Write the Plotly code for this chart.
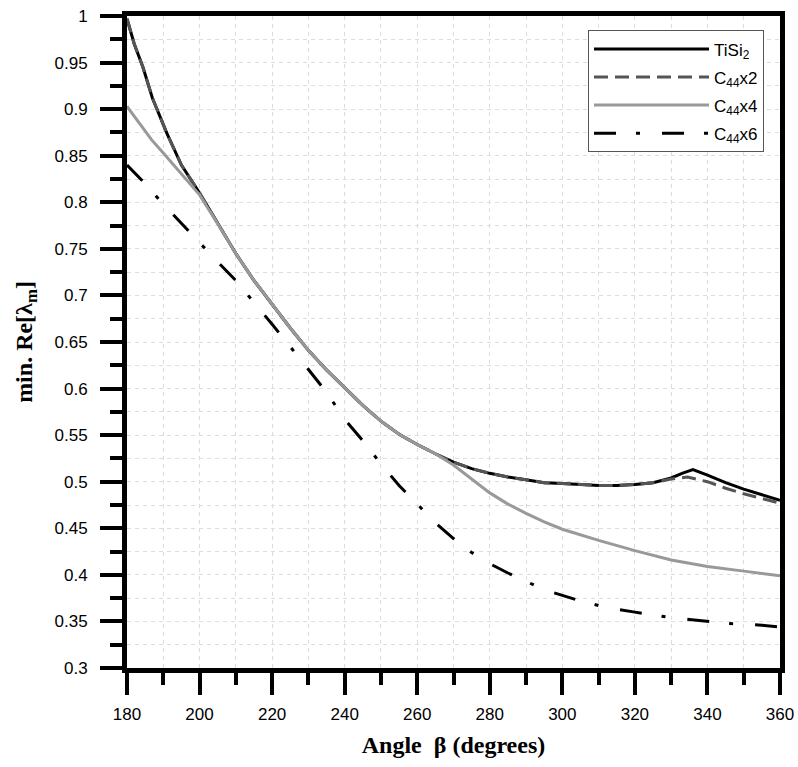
import plotly.graph_objects as go

# --- data -------------------------------------------------------------
tisi2_x = [180, 182, 184.4, 187, 191, 195, 200, 202, 205, 210, 215, 220, 225, 230,
           235, 240, 245, 250, 255, 260, 265, 270, 275, 280, 285, 290, 295, 300,
           305, 310, 315, 320, 325, 330, 333, 336, 340, 345, 350, 355, 360]
tisi2_y = [0.997, 0.970, 0.945, 0.912, 0.874, 0.840, 0.810, 0.797, 0.777, 0.745,
           0.716, 0.690, 0.665, 0.641, 0.620, 0.601, 0.582, 0.565, 0.551, 0.540,
           0.530, 0.521, 0.514, 0.509, 0.505, 0.502, 0.499, 0.498, 0.497, 0.496,
           0.496, 0.497, 0.499, 0.504, 0.509, 0.513, 0.507, 0.499, 0.492, 0.486,
           0.480]

c44x2_x = [180, 182, 184.4, 187, 191, 195, 200, 202, 205, 210, 215, 220, 225, 230,
           235, 240, 245, 250, 255, 260, 265, 270, 275, 280, 285, 290, 295, 300,
           305, 310, 315, 320, 325, 330, 334.5, 340, 345, 350, 355, 360]
c44x2_y = [0.997, 0.970, 0.945, 0.912, 0.874, 0.840, 0.810, 0.797, 0.777, 0.745,
           0.716, 0.690, 0.665, 0.641, 0.620, 0.601, 0.582, 0.565, 0.551, 0.540,
           0.530, 0.521, 0.514, 0.509, 0.505, 0.502, 0.499, 0.498, 0.497, 0.496,
           0.496, 0.497, 0.499, 0.503, 0.505, 0.500, 0.493, 0.487, 0.482, 0.477]

c44x4_x = [180, 186.8, 190, 195, 200, 205, 210, 215, 220, 225, 230, 235, 240, 245,
           250, 255, 260, 265, 270, 275, 280, 285, 290, 295, 300, 310, 320, 330,
           340, 350, 360]
c44x4_y = [0.903, 0.867, 0.853, 0.830, 0.808, 0.777, 0.745, 0.716, 0.690, 0.665,
           0.641, 0.620, 0.601, 0.582, 0.565, 0.551, 0.540, 0.530, 0.518, 0.503,
           0.488, 0.476, 0.466, 0.457, 0.449, 0.437, 0.426, 0.416, 0.409, 0.404,
           0.399]

c44x6_x = [180, 185, 190, 195, 200, 205, 210, 215, 220, 225, 230, 235, 240, 245,
           250, 255, 260, 265, 270, 275, 280, 285, 290, 295, 300, 305, 310, 315,
           320, 325, 330, 335, 340, 345, 350, 355, 360]
c44x6_y = [0.840, 0.820, 0.798, 0.777, 0.757, 0.736, 0.716, 0.693, 0.669, 0.645,
           0.621, 0.596, 0.567, 0.544, 0.519, 0.496, 0.476, 0.456, 0.439, 0.424,
           0.412, 0.402, 0.393, 0.384, 0.378, 0.372, 0.367, 0.363, 0.360, 0.357,
           0.354, 0.352, 0.350, 0.348, 0.347, 0.346, 0.344]

x_ticks = [180, 200, 220, 240, 260, 280, 300, 320, 340, 360]
y_ticks = [0.3, 0.35, 0.4, 0.45, 0.5, 0.55, 0.6, 0.65, 0.7, 0.75, 0.8, 0.85,
           0.9, 0.95, 1.0]
y_tick_text = ["0.3", "0.35", "0.4", "0.45", "0.5", "0.55", "0.6", "0.65", "0.7",
               "0.75", "0.8", "0.85", "0.9", "0.95", "1"]

# --- figure -----------------------------------------------------------
fig = go.Figure()
fig.add_trace(go.Scatter(x=tisi2_x, y=tisi2_y, mode="lines", name="TiSi<sub>2</sub>",
                         legendgroup="a",
                         line=dict(color="#000000", width=3)))
fig.add_trace(go.Scatter(x=c44x2_x, y=c44x2_y, mode="lines", name="C<sub>44</sub>x2",
                         legendgroup="b",
                         line=dict(color="#555555", width=3, dash="14px,7px")))
fig.add_trace(go.Scatter(x=c44x4_x, y=c44x4_y, mode="lines", name="C<sub>44</sub>x4",
                         legendgroup="c",
                         line=dict(color="#999999", width=3)))
fig.add_trace(go.Scatter(x=c44x6_x, y=c44x6_y, mode="lines", name="C<sub>44</sub>x6",
                         legendgroup="d",
                         line=dict(color="#000000", width=3,
                                   dash="22px,20px,4px,22px")))

tick_font = dict(family="Liberation Sans, Arial, sans-serif", size=17, color="black")
title_font = dict(family="Liberation Serif, Times New Roman, serif", size=24,
                  color="black")
grid = dict(showgrid=True, gridcolor="#dcdcdc", gridwidth=1, griddash="4px,4px")

fig.update_xaxes(
    range=[180, 360], tickvals=x_ticks, ticks="outside", ticklen=22, tickwidth=4,
    tickcolor="black", tickfont=tick_font, ticklabelstandoff=5,
    showline=True, linecolor="black", linewidth=5, mirror=True, zeroline=False,
    automargin=False,
    title=dict(text="<b>Angle  β (degrees)</b>", font=title_font, standoff=14),
    minor=dict(dtick=10, tick0=180, ticks="outside", ticklen=12, tickwidth=4,
               tickcolor="black", **grid),
    **grid,
)
fig.update_yaxes(
    range=[0.3, 1.0], tickvals=y_ticks, ticktext=y_tick_text, ticks="outside",
    ticklen=22, tickwidth=4, tickcolor="black", tickfont=tick_font,
    ticklabelstandoff=9,
    showline=True, linecolor="black", linewidth=5, mirror=True, zeroline=False,
    automargin=False,
    title=dict(text="<b>min. Re[λ<sub>m</sub>]</b>", font=title_font, standoff=17),
    minor=dict(dtick=0.025, tick0=0.3, ticks="outside", ticklen=12, tickwidth=4,
               tickcolor="black", **grid),
    **grid,
)

fig.update_layout(
    width=798, height=767,
    margin=dict(l=127, r=18, t=16, b=99),
    paper_bgcolor="white", plot_bgcolor="white",
    showlegend=True,
    legend=dict(x=0.706, y=0.978, xanchor="left", yanchor="top",
                bgcolor="white", bordercolor="#555555", borderwidth=1,
                font=dict(family="Liberation Sans, Arial, sans-serif", size=17,
                          color="black"),
                itemwidth=115, tracegroupgap=3),
)

fig.write_html("out.html")
